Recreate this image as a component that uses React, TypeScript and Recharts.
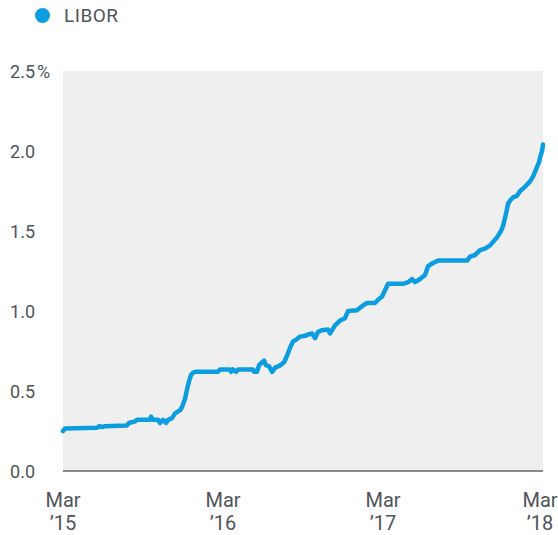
import React from 'react';
import { LineChart, Line, XAxis, YAxis, CartesianGrid } from 'recharts';

// months since Mar 2015
const months = [
  0, 0.15, 2.55, 2.7, 3.0, 3.15, 4.8, 4.95, 5.4, 5.55, 6.53, 6.6, 6.75, 7.13, 7.28, 7.5, 7.73, 7.88,
  8.18, 8.4, 8.78, 8.93, 9.15, 9.3, 9.45, 9.6, 9.75, 9.98, 11.63, 11.78, 12.53, 12.6, 12.75, 12.98,
  13.13, 14.25, 14.33, 14.55, 14.7, 14.93, 15.08, 15.23, 15.45, 15.68, 15.9, 16.28, 16.58, 16.8,
  17.03, 17.25, 17.48, 17.78, 18.15, 18.45, 18.68, 18.9, 19.13, 19.43, 19.88, 20.03, 20.25, 20.4,
  20.78, 21.15, 21.38, 22.05, 22.28, 22.43, 22.8, 23.4, 23.63, 23.93, 24.15, 24.38, 25.5, 25.88,
  26.18, 26.4, 26.78, 27.15, 27.38, 27.75, 28.13, 30.3, 30.53, 30.9, 31.28, 31.65, 32.03, 32.55,
  32.85, 33.0, 33.23, 33.38, 33.53, 33.75, 34.05, 34.28, 34.58, 34.8, 35.03, 35.25, 35.4, 35.55,
  35.7, 35.78, 35.93, 36.0,
];

const libor = [
  0.25, 0.265, 0.27, 0.28, 0.275, 0.28, 0.285, 0.3, 0.31, 0.32, 0.32, 0.34, 0.32, 0.32, 0.3, 0.32, 0.3, 0.32,
  0.33, 0.36, 0.38, 0.4, 0.45, 0.51, 0.56, 0.6, 0.615, 0.62, 0.62, 0.635, 0.635, 0.62, 0.635, 0.62,
  0.635, 0.635, 0.62, 0.62, 0.66, 0.68, 0.69, 0.66, 0.655, 0.62, 0.645, 0.66, 0.68, 0.72,
  0.77, 0.81, 0.82, 0.84, 0.845, 0.855, 0.86, 0.83, 0.87, 0.88, 0.885, 0.86, 0.89, 0.91,
  0.94, 0.955, 1.0, 1.005, 1.02, 1.03, 1.05, 1.05, 1.07, 1.09, 1.13, 1.17, 1.17, 1.18,
  1.2, 1.18, 1.2, 1.225, 1.28, 1.3, 1.315, 1.315, 1.34, 1.35, 1.38, 1.39, 1.41, 1.46,
  1.5, 1.53, 1.61, 1.67, 1.69, 1.71, 1.72, 1.75, 1.77, 1.79, 1.81, 1.84, 1.87, 1.9,
  1.93, 1.96, 2.0, 2.04,
];

const xTicks = [0, 12, 24, 36];
const xTickYears = ['’15', '’16', '’17', '’18'];
const yTicks = [0, 0.5, 1, 1.5, 2, 2.5];

const data = months.map((m, i) => ({ m, v: libor[i] }));

const BLUE = '#0b9ddf';
const TEXT = '#4f5459';
const FONT = 'Roboto, sans-serif';

const XTick = (props: any) => {
  const { x, y, payload } = props;
  const idx = xTicks.indexOf(payload.value);
  const cx = Math.min(x, 540);
  return (
    <g>
      <text x={cx} y={y + 28} textAnchor="middle" fill={TEXT} fontSize={20} fontFamily={FONT}>Mar</text>
      <text x={cx} y={y + 51} textAnchor="middle" fill={TEXT} fontSize={20} fontFamily={FONT}>{xTickYears[idx]}</text>
    </g>
  );
};

const YTick = (props: any) => {
  const { y, payload } = props;
  const v = payload.value as number;
  return (
    <g>
      <text x={35} y={y + 7} textAnchor="end" fill={TEXT} fontSize={18} fontFamily={FONT}>{v.toFixed(1)}</text>
      {v === 2.5 && (
        <text x={37} y={y + 7} textAnchor="start" fill={TEXT} fontSize={18} fontFamily={FONT}>%</text>
      )}
    </g>
  );
};

export default function App() {
  return (
    <div style={{ position: 'absolute', left: 0, top: 0, width: 558, height: 535 }}>
      <div style={{ position: 'absolute', left: 35, top: 4, display: 'flex', alignItems: 'center', fontFamily: FONT, fontSize: 19, color: TEXT, letterSpacing: 0.5 }}>
        <span style={{ display: 'inline-block', width: 15, height: 15, borderRadius: '50%', background: BLUE, marginRight: 14 }} />
        LIBOR
      </div>
      <LineChart width={558} height={535} data={data} margin={{ top: 71, right: 15, bottom: 0, left: 0 }}>
        <CartesianGrid fill="#efefef" stroke="none" horizontal={false} vertical={false} />
        <XAxis
          dataKey="m"
          type="number"
          domain={[0, 36]}
          ticks={xTicks}
          tick={<XTick />}
          tickLine={false}
          axisLine={{ stroke: '#666', strokeWidth: 1.5 }}
          height={64}
          interval={0}
        />
        <YAxis
          type="number"
          domain={[0, 2.5]}
          ticks={yTicks}
          tick={<YTick />}
          tickLine={false}
          axisLine={false}
          width={63}
          interval={0}
        />
        <Line
          type="linear"
          dataKey="v"
          stroke={BLUE}
          strokeWidth={4.5}
          strokeLinejoin="round"
          strokeLinecap="round"
          dot={false}
          isAnimationActive={false}
        />
      </LineChart>
    </div>
  );
}
